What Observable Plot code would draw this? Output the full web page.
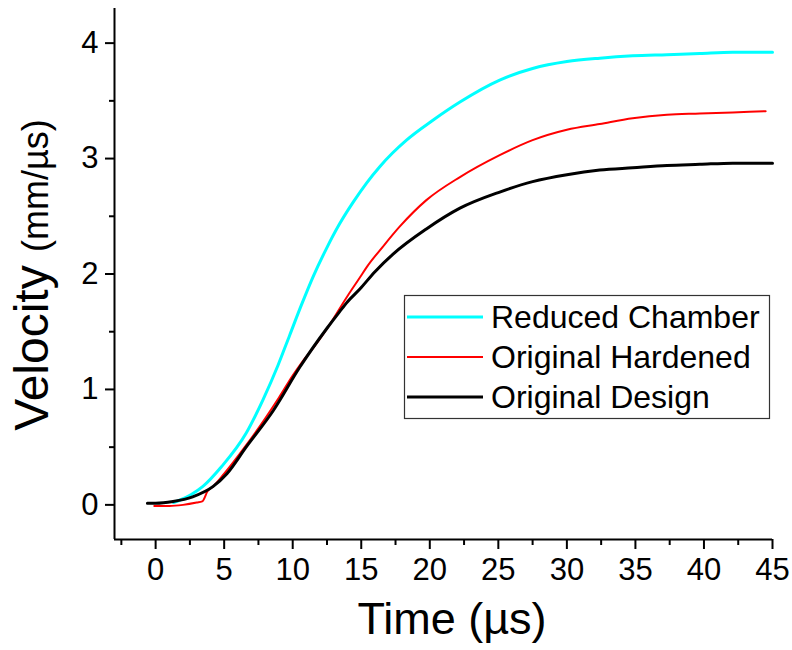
<!DOCTYPE html>
<html><head><meta charset="utf-8">
<script src="https://cdn.jsdelivr.net/npm/d3@7"></script>
<script src="https://cdn.jsdelivr.net/npm/@observablehq/plot@0.6"></script>
<style>body{margin:0;background:#fff}</style>
</head><body><div id="chart"></div>
<script>
// ---- Data ----
const seriesNames = ["Reduced Chamber", "Original Hardened", "Original Design"];
const seriesColors = ["#00FFFF", "#FF0000", "#000000"];
const seriesWidths = [3, 2, 3];

const timeReduced = [1.3, 1.75, 2.6, 3.45, 4.8, 6.6, 7.83, 8.93, 9.78, 10.63, 11.5, 12.46, 13.4, 14.4, 15.4, 16.35, 17.3, 18.3, 20.2, 22.2, 25.1, 27.5, 30.0, 32.4, 34.8, 37.3, 39.7, 42.1, 45.0];
const velReduced  = [0.02, 0.04, 0.09, 0.16, 0.33, 0.62, 0.91, 1.21, 1.47, 1.73, 1.98, 2.22, 2.43, 2.62, 2.79, 2.93, 3.05, 3.16, 3.33, 3.49, 3.68, 3.78, 3.84, 3.87, 3.89, 3.90, 3.91, 3.92, 3.92];

const timeHardened = [-0.1, 1.0, 2.0, 3.0, 3.4, 3.8, 4.2, 5.0, 6.5, 8.0, 9.0, 10.0, 10.7, 11.5, 12.46, 14.0, 14.9, 15.4, 16.6, 17.8, 19.75, 22.2, 25.1, 27.5, 30.0, 32.4, 34.8, 37.3, 39.7, 42.1, 44.5];
const velHardened  = [-0.01, -0.01, 0.0, 0.02, 0.03, 0.12, 0.16, 0.27, 0.50, 0.75, 0.93, 1.12, 1.24, 1.36, 1.52, 1.81, 1.97, 2.06, 2.24, 2.41, 2.64, 2.84, 3.03, 3.16, 3.25, 3.30, 3.35, 3.38, 3.39, 3.40, 3.41];

const timeDesign = [-0.6, 0, 1.27, 2.7, 4.2, 5.2, 6.6, 8.6, 10.5, 12.5, 13.4, 14.0, 14.9, 16.0, 17.3, 19.75, 22.2, 25.1, 27.5, 30.0, 32.4, 34.8, 37.3, 39.7, 42.1, 45.0];
const velDesign  = [0.015, 0.015, 0.03, 0.07, 0.16, 0.27, 0.50, 0.82, 1.19, 1.53, 1.67, 1.76, 1.87, 2.02, 2.17, 2.39, 2.57, 2.71, 2.80, 2.86, 2.90, 2.92, 2.94, 2.95, 2.96, 2.96];

const xMajorTicks = [0, 5, 10, 15, 20, 25, 30, 35, 40, 45];
const xMinorTicks = [-2.5, 2.5, 7.5, 12.5, 17.5, 22.5, 27.5, 32.5, 37.5, 42.5];
const yMajorTicks = [0, 1, 2, 3, 4];
const yMinorTicks = [0.5, 1.5, 2.5, 3.5];

const xTitle = "Time (\u00b5s)";
const yTitleMain = "Velocity ";
const yTitleUnit = "(mm/\u00b5s)";

// ---- Build tables ----
const allTimes = [timeReduced, timeHardened, timeDesign];
const allVels = [velReduced, velHardened, velDesign];
const tables = allTimes.map((ts, k) => ts.map((t, i) => ({series: seriesNames[k], t, v: allVels[k][i]})));

const font = "'Liberation Sans', Arial, sans-serif";

const plot = Plot.plot({
  width: 792,
  height: 650,
  marginLeft: 114,
  marginRight: 20,
  marginTop: 8,
  marginBottom: 111,
  style: {fontFamily: font, fontSize: "31px", background: "white", color: "#000"},
  x: {domain: [-3, 45]},
  y: {domain: [-0.3, 4.3]},
  marks: [
    Plot.axisX(xMajorTicks, {tickSize: 10, tickPadding: 8, strokeWidth: 2, label: null, tickFormat: d => String(d)}),
    Plot.axisX(xMinorTicks, {tickSize: 6, strokeWidth: 2, label: null, tickFormat: () => ""}),
    Plot.axisY(yMajorTicks, {tickSize: 9, tickPadding: 7, strokeWidth: 2, label: null, tickFormat: d => String(d)}),
    Plot.axisY(yMinorTicks, {tickSize: 5, strokeWidth: 2, label: null, tickFormat: () => ""}),
    ...tables.map((tb, k) => Plot.line(tb, {x: "t", y: "v", stroke: seriesColors[k], strokeWidth: seriesWidths[k], curve: "monotone-x"})),
    Plot.ruleX([-3], {strokeWidth: 2}),
    Plot.ruleY([-0.3], {strokeWidth: 2})
  ]
});

const svg = d3.select(plot);
svg.selectAll("g[aria-label$='tick label']").style("font-size", "31px");
svg.selectAll("g[aria-label$='tick label'] text").style("font-size", "31px");

// Axis titles
svg.append("text")
  .attr("x", 452).attr("y", 634)
  .attr("text-anchor", "middle")
  .style("font-family", font).style("font-size", "45px").attr("fill", "#000")
  .text(xTitle);

const yt = svg.append("text")
  .attr("transform", "translate(48,275) rotate(-90)")
  .attr("text-anchor", "middle")
  .style("font-family", font).attr("fill", "#000");
yt.append("tspan").style("font-size", "48px").text(yTitleMain);
yt.append("tspan").style("font-size", "36px").text(yTitleUnit);

// Legend
const lg = svg.append("g");
lg.append("rect").attr("x", 404.5).attr("y", 295.5).attr("width", 365).attr("height", 123)
  .attr("fill", "white").attr("stroke", "#333").attr("stroke-width", 1.2);
seriesNames.forEach((name, k) => {
  const cy = 317 + k * 40;
  lg.append("line").attr("x1", 407).attr("x2", 483).attr("y1", cy).attr("y2", cy)
    .attr("stroke", seriesColors[k]).attr("stroke-width", seriesWidths[k]);
  lg.append("text").attr("x", 491).attr("y", cy + 11)
    .attr("text-anchor", "start")
    .style("font-family", font).style("font-size", "32px").attr("fill", "#000")
    .text(name);
});

document.getElementById("chart").appendChild(plot);
</script>
</body></html>
